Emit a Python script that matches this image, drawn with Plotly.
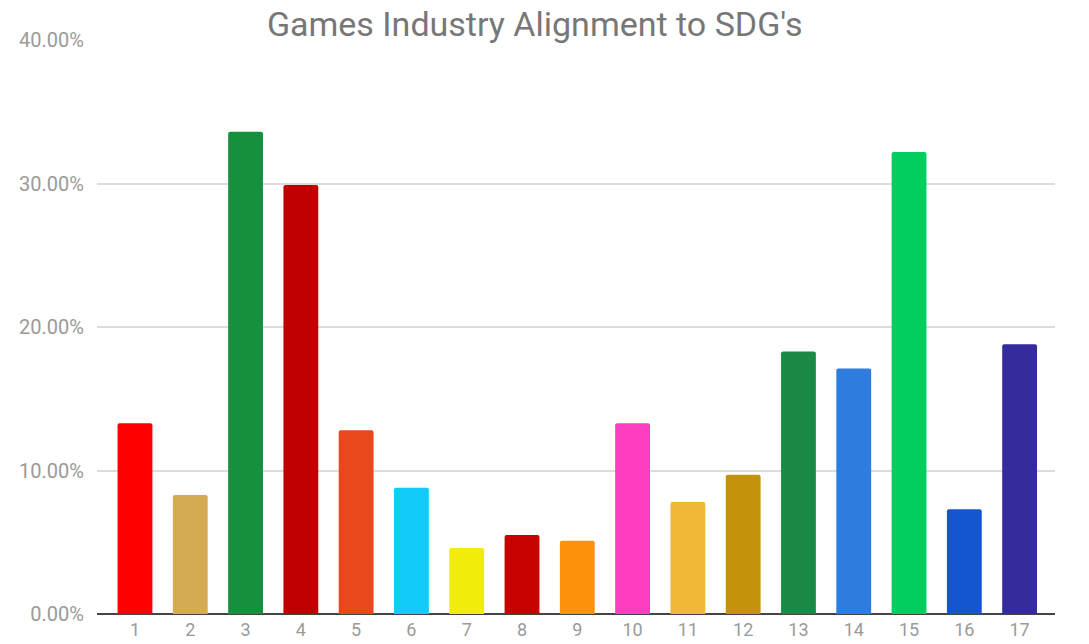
import plotly.graph_objects as go

categories = [str(i) for i in range(1, 18)]
values = [13.3, 8.3, 33.6, 29.9, 12.8, 8.8, 4.6, 5.5, 5.1, 13.3, 7.8, 9.7, 18.3, 17.1, 32.2, 7.3, 18.8]
colors = ["#FE0000", "#D4AA52", "#178F3E", "#C00000", "#E9481C", "#12CBF6", "#F2EC0A",
          "#C70000", "#FB9209", "#FE3CBF", "#EFB836", "#C5920B", "#1A8A46", "#2E7CDE",
          "#00CE5F", "#1556D0", "#352B9D"]
y_ticks = [0, 10, 20, 30, 40]
y_tick_labels = ["0.00%", "10.00%", "20.00%", "30.00%", "40.00%"]

x_idx = list(range(len(categories)))

fig = go.Figure(go.Bar(
    x=x_idx, y=values,
    marker=dict(color=colors, line=dict(width=0), cornerradius=2),
    width=0.63,
))

fig.update_layout(
    width=1089, height=644,
    margin=dict(l=97, r=34, t=40, b=30, autoexpand=False),
    paper_bgcolor="white", plot_bgcolor="white",
    showlegend=False,
    font=dict(family="Roboto", color="#9a9a9a"),
    title=dict(text="Games Industry Alignment to SDG's", x=0.491, xanchor="center",
               xref="container", y=0.962, yanchor="middle", yref="container",
               font=dict(family="Roboto", size=34, color="#777777")),
    xaxis=dict(
        range=[-0.687, 16.64], tickmode="array", tickvals=x_idx, ticktext=categories,
        showgrid=False, zeroline=False, showline=False, ticks="",
        automargin=False, ticklabelstandoff=3,
        tickfont=dict(size=18, color="#9a9a9a"),
    ),
    yaxis=dict(
        range=[0, 40], tickmode="array", tickvals=y_ticks, ticktext=y_tick_labels,
        showgrid=True, gridcolor="#dcdcdc", gridwidth=1.5, zeroline=True,
        zerolinecolor="#444444", zerolinewidth=2, showline=False, ticks="",
        automargin=False, ticklabelstandoff=12,
        tickfont=dict(size=20, color="#9a9a9a"),
    ),
)

fig.write_html("out.html")
